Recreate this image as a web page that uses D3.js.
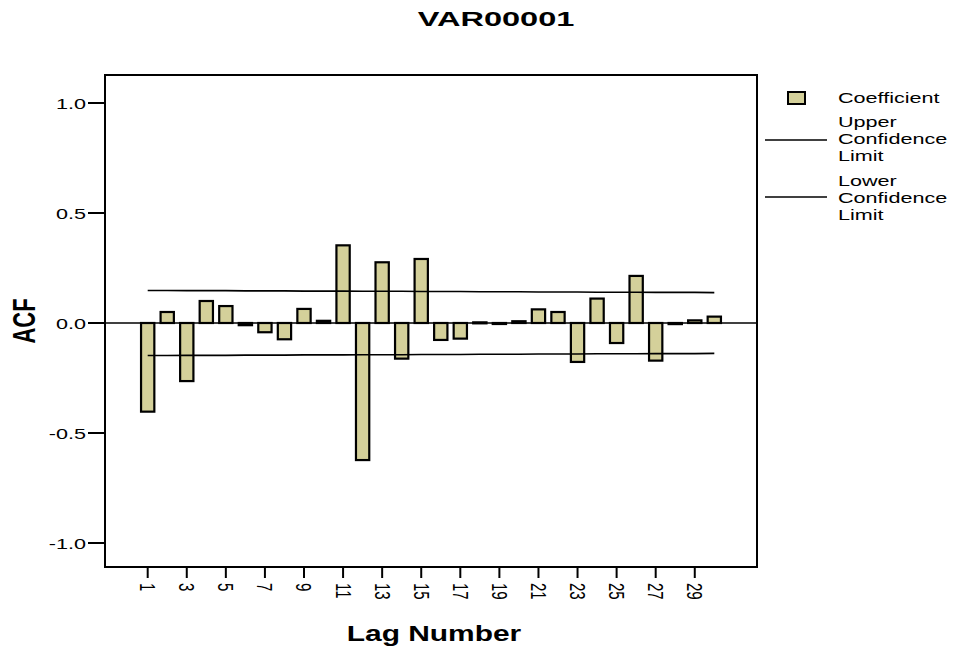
<!DOCTYPE html>
<html>
<head>
<meta charset="utf-8">
<script src="https://cdn.jsdelivr.net/npm/d3@7"></script>
<style>
  html, body { margin: 0; padding: 0; background: #fff; }
  svg { display: block; font-family: "Liberation Sans", Arial, Helvetica, sans-serif; }
</style>
</head>
<body>
<svg id="chart" width="953" height="652"></svg>
<script>
// ---- data ----
const lags = d3.range(1, 31);
const acf = [-0.403, 0.050, -0.264, 0.100, 0.077, -0.010, -0.042, -0.074, 0.064, 0.010,
             0.353, -0.623, 0.276, -0.162, 0.291, -0.077, -0.071, 0.003, -0.003, 0.008,
             0.062, 0.050, -0.177, 0.111, -0.091, 0.214, -0.171, -0.005, 0.012, 0.029];
const upper = [0.148, 0.148, 0.147, 0.147, 0.147, 0.146, 0.146, 0.146, 0.145, 0.145,
               0.145, 0.144, 0.144, 0.144, 0.143, 0.143, 0.143, 0.142, 0.142, 0.142,
               0.141, 0.141, 0.141, 0.140, 0.140, 0.140, 0.139, 0.139, 0.139, 0.138];
const lower = [-0.148, -0.148, -0.147, -0.147, -0.147, -0.146, -0.146, -0.146, -0.145, -0.145,
               -0.145, -0.144, -0.144, -0.144, -0.143, -0.143, -0.143, -0.142, -0.142, -0.142,
               -0.141, -0.141, -0.141, -0.140, -0.140, -0.140, -0.139, -0.139, -0.139, -0.138];
const yTicks = [-1.0, -0.5, 0.0, 0.5, 1.0];
const yTickLabels = ["-1.0", "-0.5", "0.0", "0.5", "1.0"];
const xTickLags = [1, 3, 5, 7, 9, 11, 13, 15, 17, 19, 21, 23, 25, 27, 29];
const title = "VAR00001";
const xTitle = "Lag Number";
const yTitle = "ACF";
const legendItems = [
  { type: "bar", lines: ["Coefficient"] },
  { type: "line", lines: ["Upper", "Confidence", "Limit"] },
  { type: "line", lines: ["Lower", "Confidence", "Limit"] }
];

// ---- layout ----
const plot = { left: 105, right: 757, top: 75, bottom: 567 };
const barFill = "#d4d09a";
const SX = 1.44; // horizontal text stretch

const svg = d3.select("#chart");

const x = d3.scaleBand()
  .domain(lags)
  .range([plot.left, plot.right])
  .paddingInner(0.32)
  .paddingOuter(1.845)
  .align(0.5);
const y = d3.scaleLinear().domain([-1, 1]).range([543, 103]);
const cx = d => x(d) + x.bandwidth() / 2;

function stretchedText(g, tx, ty, sx, rot, str) {
  return g.append("text")
    .attr("transform", `translate(${tx},${ty}) scale(${sx},1)` + (rot ? ` rotate(${rot})` : ""))
    .text(str);
}

// Title
stretchedText(svg, 496, 26, 1.55, 0, title)
  .attr("text-anchor", "middle").attr("font-size", 21).attr("font-weight", "bold");

// Zero line
svg.append("line")
  .attr("x1", plot.left).attr("x2", plot.right)
  .attr("y1", y(0)).attr("y2", y(0))
  .attr("stroke", "#000").attr("stroke-width", 1.6);

// Bars
svg.append("g").selectAll("rect")
  .data(lags)
  .join("rect")
  .attr("x", d => x(d))
  .attr("width", x.bandwidth())
  .attr("y", (d, i) => Math.min(y(acf[i]), y(0)))
  .attr("height", (d, i) => Math.max(1, Math.abs(y(acf[i]) - y(0))))
  .attr("fill", barFill)
  .attr("stroke", "#000")
  .attr("stroke-width", 2.2);

// Confidence limits
const lineGen = arr => d3.line().x(d => cx(d)).y((d, i) => y(arr[i]))(lags);
svg.append("path").attr("d", lineGen(upper))
  .attr("fill", "none").attr("stroke", "#000").attr("stroke-width", 1.6);
svg.append("path").attr("d", lineGen(lower))
  .attr("fill", "none").attr("stroke", "#000").attr("stroke-width", 1.6);

// Frame
svg.append("rect")
  .attr("x", plot.left).attr("y", plot.top)
  .attr("width", plot.right - plot.left).attr("height", plot.bottom - plot.top)
  .attr("fill", "none").attr("stroke", "#000").attr("stroke-width", 2);

// Y axis ticks and labels
const yg = svg.append("g");
yTicks.forEach((t, i) => {
  yg.append("line")
    .attr("x1", 88).attr("x2", plot.left)
    .attr("y1", y(t)).attr("y2", y(t))
    .attr("stroke", "#000").attr("stroke-width", 2);
  stretchedText(yg, 86, y(t) + 5.5, SX, 0, yTickLabels[i])
    .attr("text-anchor", "end").attr("font-size", 15);
});

// X axis ticks and labels
const xg = svg.append("g");
xTickLags.forEach(l => {
  xg.append("line")
    .attr("x1", cx(l)).attr("x2", cx(l))
    .attr("y1", plot.bottom).attr("y2", plot.bottom + 11)
    .attr("stroke", "#000").attr("stroke-width", 2);
  stretchedText(xg, cx(l), 583, SX, 90, String(l))
    .attr("text-anchor", "start").attr("dominant-baseline", "central").attr("font-size", 15);
});

// Axis titles
stretchedText(svg, 434, 641, 1.36, 0, xTitle)
  .attr("text-anchor", "middle").attr("font-size", 22).attr("font-weight", "bold");
stretchedText(svg, 24, 321, 1.44, -90, yTitle)
  .attr("text-anchor", "middle").attr("dominant-baseline", "central")
  .attr("font-size", 22).attr("font-weight", "bold");

// Legend
const lg = svg.append("g");
lg.append("rect").attr("x", 788).attr("y", 92).attr("width", 17).attr("height", 12)
  .attr("fill", barFill).attr("stroke", "#000").attr("stroke-width", 2);
stretchedText(lg, 838, 103, SX, 0, legendItems[0].lines[0]).attr("font-size", 15);
const baseY = [127, 186];
const lineY = [140, 197];
[1, 2].forEach((k, j) => {
  lg.append("line").attr("x1", 765).attr("x2", 827)
    .attr("y1", lineY[j]).attr("y2", lineY[j])
    .attr("stroke", "#000").attr("stroke-width", 1.6);
  legendItems[k].lines.forEach((s, i) => {
    stretchedText(lg, 838, baseY[j] + i * 17, SX, 0, s).attr("font-size", 15);
  });
});
</script>
</body>
</html>
